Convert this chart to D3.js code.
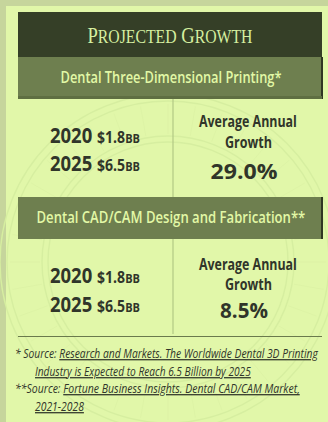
<!DOCTYPE html>
<html>
<head>
<meta charset="utf-8">
<script src="https://cdn.jsdelivr.net/npm/d3@7"></script>
<style>
  html, body { margin: 0; padding: 0; background: #c6d59c; }
  svg { display: block; }
</style>
</head>
<body>
<svg id="chart" width="328" height="422"></svg>
<script>
// ---- data ----
const title = "Projected Growth";
const segments = ["Dental Three-Dimensional Printing*", "Dental CAD/CAM Design and Fabrication**"];
const years = ["2020", "2025"];
const marketValues = [[1.8, 6.5], [1.8, 6.5]];   // billions USD
const growthLabel = ["Average Annual", "Growth"];
const growthRates = [29.0, 8.5];                 // percent per year
const sources = [
  { mark: "* Source:", link: ["Research and Markets. The Worldwide Dental 3D Printing", "Industry is Expected to Reach 6.5 Billion by 2025"] },
  { mark: "**Source:", link: ["Fortune Business Insights. Dental CAD/CAM Market,", "2021-2028"] }
];

// ---- palette ----
const C = {
  panel: "#e1f7a9",
  titleBox: "#353f27",
  titleText: "#d6efa0",
  headBox: "#6e7f4f",
  headText: "#e2f8a6",
  ink: "#30352a",
  rule: "#6a7a4c",
  seal: "#d6eea0"
};

const svg = d3.select("#chart");
const W = 328, H = 422;
const boxL = 18, boxR = 322;

// Place a text element, then squeeze it horizontally to a target width
function fitText(g, x, y, width, anchor, build) {
  const holder = g.append("g");
  const t = holder.append("text").attr("x", 0).attr("y", 0);
  build(t);
  const w = t.node().getComputedTextLength();
  const k = width / w;
  let dx = x;
  if (anchor === "middle") dx = x - width / 2;
  else if (anchor === "end") dx = x - width;
  holder.attr("transform", `translate(${dx},${y}) scale(${k},1)`);
  return holder;
}

// panel
svg.append("rect").attr("x", 6).attr("y", 6).attr("width", W - 6).attr("height", H - 6).attr("fill", C.panel);

// faint seal rings in the background
const seal = svg.append("g").attr("transform", "translate(168,262)").attr("fill", "none")
  .attr("stroke", C.seal).attr("stroke-width", 1.4);
[168, 161, 126, 120].forEach(r => seal.append("circle").attr("r", r));
d3.range(0, 360, 10).forEach(a => {
  const r0 = 128, r1 = 158, rad = a * Math.PI / 180;
  seal.append("line")
    .attr("x1", r0 * Math.cos(rad)).attr("y1", r0 * Math.sin(rad))
    .attr("x2", r1 * Math.cos(rad)).attr("y2", r1 * Math.sin(rad))
    .attr("stroke-width", 0.8).attr("opacity", 0.5);
});

// title bar, set in small capitals (large initials)
svg.append("rect").attr("x", boxL).attr("y", 12).attr("width", boxR - boxL).attr("height", 45).attr("fill", C.titleBox);
fitText(svg, (boxL + boxR) / 2, 42.5, 165, "middle", t => {
  t.attr("font-family", "Liberation Serif, serif").attr("fill", C.titleText);
  title.split(" ").forEach((word, wi) => {
    t.append("tspan").attr("font-size", 23).text((wi ? " " : "") + word[0].toUpperCase());
    t.append("tspan").attr("font-size", 19.5).text(word.slice(1).toUpperCase());
  });
});

const headH = 42;
const headWidths = [221, 269];
const splitX = 173;
const blockTop = [57, 197];
const blockBottom = [197, 336];

segments.forEach((seg, i) => {
  const y0 = blockTop[i];
  const y1 = blockBottom[i];
  const g = svg.append("g");

  // header box with a darker right edge
  g.append("rect").attr("x", boxL).attr("y", y0).attr("width", boxR - boxL).attr("height", headH).attr("fill", C.headBox);
  g.append("rect").attr("x", boxR - 1).attr("y", y0).attr("width", 2).attr("height", headH).attr("fill", "#2f3722");
  if (i === 0) {
    g.append("rect").attr("x", boxL).attr("y", y0 + headH - 3).attr("width", boxR - boxL).attr("height", 3).attr("fill", "#5f6f42");
  }
  fitText(g, (boxL + boxR) / 2 + 1, y0 + 26, headWidths[i], "middle", t => t
    .attr("font-family", "Open Sans, sans-serif").attr("font-weight", 600).attr("font-size", 15.5)
    .attr("fill", C.headText).text(seg));

  // divider
  g.append("line").attr("x1", splitX).attr("x2", splitX).attr("y1", y0 + headH).attr("y2", i === 0 ? y1 : y1 - 2)
    .attr("stroke", "#b3c985").attr("stroke-width", 1.2);

  // market values per year
  const rowY = d3.scalePoint().domain(years).range(i === 0 ? [143, 171] : [283, 312]);
  years.forEach((yr, j) => {
    const v = marketValues[i][j];
    fitText(g, 50, rowY(yr), 90, "start", t => {
      t.attr("font-family", "Open Sans, sans-serif").attr("font-weight", 700).attr("fill", C.ink);
      t.append("tspan").attr("font-size", 21).text(yr + " ");
      t.append("tspan").attr("font-size", 16).text("$" + d3.format(".1f")(v));
      t.append("tspan").attr("font-size", 12.5).text("BB");
    });
  });

  // growth label and rate
  const gy = i === 0 ? [127, 148, 179] : [270, 290, 318];
  fitText(g, 248, gy[0], 98, "middle", t => t
    .attr("font-family", "Open Sans, sans-serif").attr("font-weight", 700).attr("font-size", 16)
    .attr("fill", C.ink).text(growthLabel[0]));
  fitText(g, 248.5, gy[1], 47, "middle", t => t
    .attr("font-family", "Open Sans, sans-serif").attr("font-weight", 700).attr("font-size", 16)
    .attr("fill", C.ink).text(growthLabel[1]));
  const rateTxt = d3.format(".1f")(growthRates[i]) + "%";
  fitText(g, 244, gy[2], i === 0 ? 67 : 48, "middle", t => t
    .attr("font-family", "Open Sans, sans-serif").attr("font-weight", 700).attr("font-size", 22)
    .attr("fill", C.ink).text(rateTxt));
});

// rule above sources
svg.append("line").attr("x1", boxL).attr("x2", boxR).attr("y1", 336.5).attr("y2", 336.5)
  .attr("stroke", C.rule).attr("stroke-width", 1.2);

// sources
const srcY = [[358, 376], [393, 411]];
const lineW = [[303, 216], [285, 49]];
sources.forEach((s, i) => {
  s.link.forEach((line, j) => {
    const x = j === 0 ? 15 : 35;
    fitText(svg, x, srcY[i][j], lineW[i][j], "start", t => {
      t.attr("font-family", "Open Sans, sans-serif").attr("font-style", "italic").attr("font-size", 12.5)
        .attr("fill", C.ink);
      if (j === 0) t.append("tspan").text(s.mark + (i === 0 ? "  " : " "));
      t.append("tspan").attr("text-decoration", "underline").text(line + (j === 0 && i === 0 ? " " : ""));
    });
  });
});
</script>
</body>
</html>
